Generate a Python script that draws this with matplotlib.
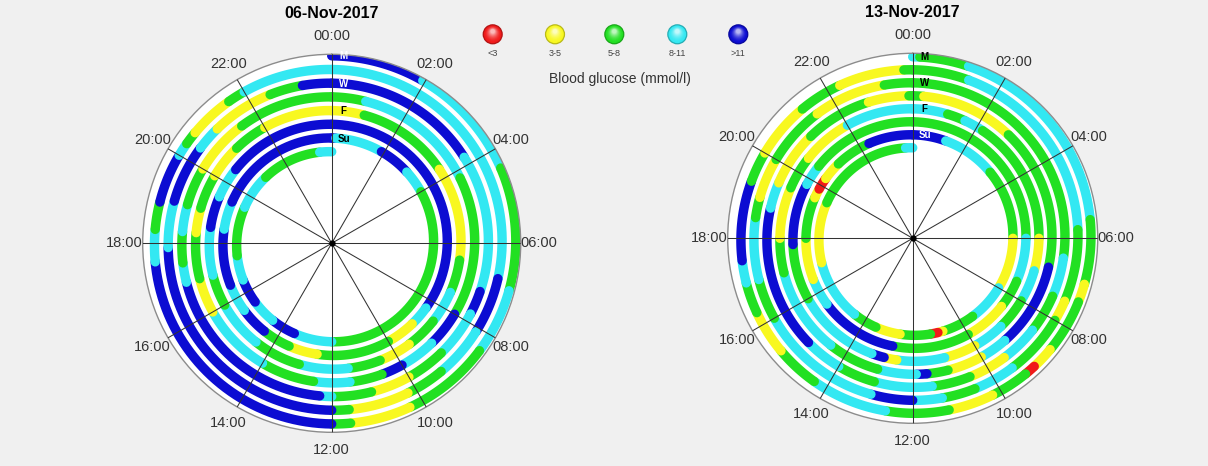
import numpy as np
import matplotlib.pyplot as plt
from matplotlib.patches import Circle

plt.rcParams['font.family'] = ['Liberation Sans', 'DejaVu Sans']

# glucose bands: R <3, Y 3-5, G 5-8, C 8-11, B >11
COLORS = {'R': '#f01a1a', 'Y': '#f8f820', 'G': '#22e022', 'C': '#33e8f2', 'B': '#0c0cd2'}
legend_keys = ['R', 'Y', 'G', 'C', 'B']
legend_labels = ['<3', '3-5', '5-8', '8-11', '>11']
hour_labels = ['%02d:00' % h for h in range(0, 24, 2)]
day_marks = {0: 'M', 2: 'W', 4: 'F', 6: 'Su'}

# (start hour, end hour, band) for each day, week of 06-Nov-2017
w1_mon = [(0, 1.95, 'B'), (1.95, 4.4, 'C'), (4.4, 7.0, 'G'), (7.0, 8.4, 'C'), (8.4, 10.3, 'G'),
          (10.3, 11.6, 'Y'), (11.6, 12.0, 'G'), (12.0, 17.6, 'B'), (17.6, 18.3, 'C'), (18.3, 18.9, 'G'),
          (18.9, 20.0, 'B'), (20.0, 20.3, 'C'), (20.3, 20.6, 'G'), (20.6, 21.6, 'Y'), (21.6, 22.0, 'G'),
          (22.0, 24, 'C')]
w1_tue = [(0, 6.8, 'C'), (6.8, 8.1, 'B'), (8.1, 9.3, 'C'), (9.3, 10.2, 'G'), (10.2, 11.6, 'Y'),
          (11.6, 12.0, 'G'), (12.0, 17.9, 'B'), (17.9, 19.0, 'C'), (19.0, 20.4, 'B'), (20.4, 21.0, 'C'),
          (21.0, 22.5, 'Y'), (22.5, 23.3, 'G'), (23.3, 24, 'B')]
w1_wed = [(0, 3.8, 'B'), (3.8, 7.2, 'C'), (7.2, 7.8, 'B'), (7.8, 9.0, 'C'), (9.0, 10.0, 'G'),
          (10.0, 11.0, 'Y'), (11.0, 12.0, 'G'), (12.0, 12.3, 'C'), (12.3, 17.0, 'B'), (17.0, 17.5, 'C'),
          (17.5, 18.3, 'G'), (18.3, 19.0, 'C'), (19.0, 20.0, 'G'), (20.0, 21.5, 'Y'), (21.5, 24, 'G')]
w1_thu = [(0, 0.9, 'G'), (0.9, 4.2, 'C'), (4.2, 8.0, 'G'), (8.0, 9.0, 'B'), (9.0, 10.0, 'C'),
          (10.0, 10.6, 'B'), (10.6, 11.5, 'G'), (11.5, 12.5, 'C'), (12.5, 14.0, 'G'), (14.0, 16.0, 'C'),
          (16.0, 17.0, 'Y'), (17.0, 18.3, 'G'), (18.3, 19.0, 'Y'), (19.0, 20.0, 'G'), (20.0, 21.0, 'Y'),
          (21.0, 22.0, 'G'), (22.0, 24, 'Y')]
w1_fri = [(0, 0.95, 'Y'), (0.95, 3.7, 'G'), (3.7, 6.5, 'Y'), (6.5, 7.5, 'G'), (7.5, 8.5, 'C'),
          (8.5, 9.5, 'G'), (9.5, 10.5, 'Y'), (10.5, 11.5, 'G'), (11.5, 13.0, 'C'), (13.0, 14.5, 'G'),
          (14.5, 16.0, 'C'), (16.0, 17.0, 'G'), (17.0, 18.5, 'C'), (18.5, 19.5, 'B'), (19.5, 20.5, 'C'),
          (20.5, 24, 'B')]
w1_sat = [(0, 8.3, 'B'), (8.3, 9.0, 'C'), (9.0, 10.0, 'Y'), (10.0, 12.5, 'G'), (12.5, 13.5, 'Y'),
          (13.5, 14.5, 'G'), (14.5, 15.5, 'B'), (15.5, 16.5, 'C'), (16.5, 18.5, 'B'), (18.5, 19.5, 'C'),
          (19.5, 24, 'B')]
w1_sun = [(0, 0.15, 'B'), (0.15, 1.9, 'C'), (1.9, 3.1, 'B'), (3.1, 4.0, 'C'), (4.0, 12.0, 'G'),
          (12.0, 13.5, 'C'), (13.5, 14.5, 'B'), (14.5, 15.5, 'C'), (15.5, 16.5, 'B'), (16.5, 17.5, 'C'),
          (17.5, 19.5, 'G'), (19.5, 21.0, 'C'), (21.0, 23.5, 'G'), (23.5, 24, 'C')]

# week of 13-Nov-2017
w2_mon = [(0, 0.15, 'C'), (0.15, 1.2, 'G'), (1.2, 5.6, 'C'), (5.6, 7.0, 'G'), (7.0, 7.4, 'Y'),
          (7.4, 8.6, 'G'), (8.6, 9.1, 'Y'), (9.1, 9.35, 'R'), (9.35, 10.2, 'G'), (10.2, 11.2, 'Y'),
          (11.2, 12.6, 'G'), (12.6, 14.3, 'C'), (14.3, 15.3, 'G'), (15.3, 16.3, 'Y'), (16.3, 17.0, 'G'),
          (17.0, 17.5, 'C'), (17.5, 19.3, 'B'), (19.3, 20.0, 'G'), (20.0, 21.3, 'Y'), (21.3, 22.3, 'G'),
          (22.3, 23.8, 'Y'), (23.8, 24, 'G')]
w2_tue = [(0, 1.3, 'G'), (1.3, 5.8, 'C'), (5.8, 7.5, 'G'), (7.5, 8.0, 'Y'), (8.0, 9.5, 'G'),
          (9.5, 10.5, 'C'), (10.5, 11.3, 'G'), (11.3, 12.0, 'C'), (12.0, 13.0, 'B'), (13.0, 16.0, 'C'),
          (16.0, 17.0, 'G'), (17.0, 18.5, 'C'), (18.5, 19.0, 'G'), (19.0, 20.0, 'Y'), (20.0, 21.5, 'G'),
          (21.5, 23.3, 'Y'), (23.3, 24, 'G')]
w2_wed = [(0, 6.5, 'G'), (6.5, 7.5, 'C'), (7.5, 8.5, 'G'), (8.5, 9.5, 'C'), (9.5, 10.5, 'Y'),
          (10.5, 11.5, 'G'), (11.5, 13.0, 'C'), (13.0, 14.0, 'G'), (14.0, 15.0, 'C'), (15.0, 18.8, 'B'),
          (18.8, 19.5, 'C'), (19.5, 21.0, 'Y'), (21.0, 22.8, 'G'), (22.8, 23.9, 'Y'), (23.9, 24, 'G')]
w2_thu = [(0, 0.3, 'G'), (0.3, 2.85, 'Y'), (2.85, 6.8, 'G'), (6.8, 9.2, 'B'), (9.2, 10.0, 'C'),
          (10.0, 11.0, 'Y'), (11.0, 11.6, 'G'), (11.6, 11.9, 'B'), (11.9, 13.0, 'C'), (13.0, 14.5, 'G'),
          (14.5, 17.0, 'C'), (17.0, 18.0, 'G'), (18.0, 19.5, 'Y'), (19.5, 20.5, 'G'), (20.5, 22.0, 'Y'),
          (22.0, 24, 'C')]
w2_fri = [(0, 1.05, 'C'), (1.05, 1.6, 'G'), (1.6, 2.2, 'C'), (2.2, 6.0, 'G'), (6.0, 7.0, 'Y'),
          (7.0, 8.0, 'C'), (8.0, 9.0, 'G'), (9.0, 10.0, 'C'), (10.0, 11.0, 'Y'), (11.0, 12.5, 'C'),
          (12.5, 12.9, 'Y'), (12.9, 13.3, 'B'), (13.3, 16.0, 'C'), (16.0, 17.8, 'G'), (17.8, 19.8, 'B'),
          (19.8, 20.5, 'C'), (20.5, 24, 'G')]
w2_sat = [(0, 6.0, 'G'), (6.0, 7.5, 'C'), (7.5, 8.5, 'G'), (8.5, 10.0, 'Y'), (10.0, 12.7, 'G'),
          (12.7, 15.5, 'B'), (15.5, 16.5, 'C'), (16.5, 18.0, 'Y'), (18.0, 19.5, 'G'), (19.5, 19.85, 'Y'),
          (19.85, 20.3, 'R'), (20.3, 21.0, 'Y'), (21.0, 22.35, 'G'), (22.35, 24, 'B')]
w2_sun = [(0, 1.25, 'B'), (1.25, 3.3, 'C'), (3.3, 6.0, 'G'), (6.0, 8.0, 'Y'), (8.0, 9.5, 'C'),
          (9.5, 10.8, 'G'), (10.8, 11.0, 'Y'), (11.0, 11.3, 'R'), (11.3, 12.5, 'G'), (12.5, 13.5, 'Y'),
          (13.5, 14.5, 'G'), (14.5, 17.0, 'C'), (17.0, 19.5, 'Y'), (19.5, 23.7, 'G'), (23.7, 24, 'C')]

week1 = [w1_mon, w1_tue, w1_wed, w1_thu, w1_fri, w1_sat, w1_sun]
week2 = [w2_mon, w2_tue, w2_wed, w2_thu, w2_fri, w2_sat, w2_sun]

W, H = 1208, 466
fig = plt.figure(figsize=(W / 100, H / 100), dpi=100, facecolor='#f0f0f0')
LW = 6.8  # points, ~9.5 px band


def spiral_axes(cx, cy, rad):
    ax = fig.add_axes([(cx - rad) / W, (H - cy - rad) / H, 2 * rad / W, 2 * rad / H], projection='polar')
    ax.set_theta_zero_location('N')
    ax.set_theta_direction(-1)
    ax.set_ylim(0, rad)
    ax.set_xticks([])
    ax.set_yticks([])
    ax.grid(False)
    ax.set_facecolor('white')
    ax.spines['polar'].set_color('#8c8c8c')
    ax.spines['polar'].set_linewidth(1.0)
    return ax


def draw_week(ax, days, title, rad, r0, step, mark_colors):
    for d, segs in enumerate(days):
        for h0, h1, c in segs:
            h = np.linspace(h0, h1, max(int((h1 - h0) * 30), 2))
            ax.plot(h / 24 * 2 * np.pi, r0 - step * (d + h / 24), color=COLORS[c], lw=LW,
                    solid_capstyle='round', zorder=2)
    for k in range(12):
        th = k * np.pi / 6
        ax.plot([th, th], [0, rad], color='#333333', lw=0.75, zorder=3)
        ax.text(th, rad + 18, hour_labels[k], ha='center', va='center', fontsize=10.5, color='#333333')
    ax.plot([0], [0], 'o', ms=3.5, color='black', zorder=4)
    for d, m in day_marks.items():
        r = r0 - step * d
        ax.text(12 / r, r, m, ha='center', va='center', fontsize=7, fontweight='bold',
                color=mark_colors[m], zorder=5)
    ax.text(0, rad + 41, title, ha='center', va='center', fontsize=11.5, fontweight='bold')


ax1 = spiral_axes(331.7, 243.3, 189)
draw_week(ax1, week1, '06-Nov-2017', 189, 187.5, 13.7, {'M': 'white', 'W': 'white', 'F': 'black', 'Su': 'black'})
ax2 = spiral_axes(912.7, 238.3, 185)
draw_week(ax2, week2, '13-Nov-2017', 185, 181.5, 13.0, {'M': 'black', 'W': 'black', 'F': 'black', 'Su': 'white'})

# legend with shaded balls
lg = fig.add_axes([0, 0, 1, 1], facecolor='none')
lg.set_xlim(0, W)
lg.set_ylim(H, 0)
lg.axis('off')
ball_x = [492.7, 555.0, 614.3, 677.3, 738.3]
for x, k, lab in zip(ball_x, legend_keys, legend_labels):
    base = np.array(plt.matplotlib.colors.to_rgb(COLORS[k]))
    lg.add_patch(Circle((x, 34.3), 9.4, color=base * 0.75))
    n = 12
    for i in range(n):
        f = i / (n - 1)
        rr = 8.8 * (1 - 0.75 * f)
        col = base + (1 - base) * 0.7 * f ** 1.8
        lg.add_patch(Circle((x, 34.3 - (8.8 - rr) * 0.45), rr, color=col, lw=0))
    lg.text(x, 53, lab, ha='center', va='center', fontsize=6.5, color='#444444')
lg.text(620, 79, 'Blood glucose (mmol/l)', ha='center', va='center', fontsize=10, color='#333333')

fig.savefig('out.png', dpi=100, facecolor=fig.get_facecolor())
